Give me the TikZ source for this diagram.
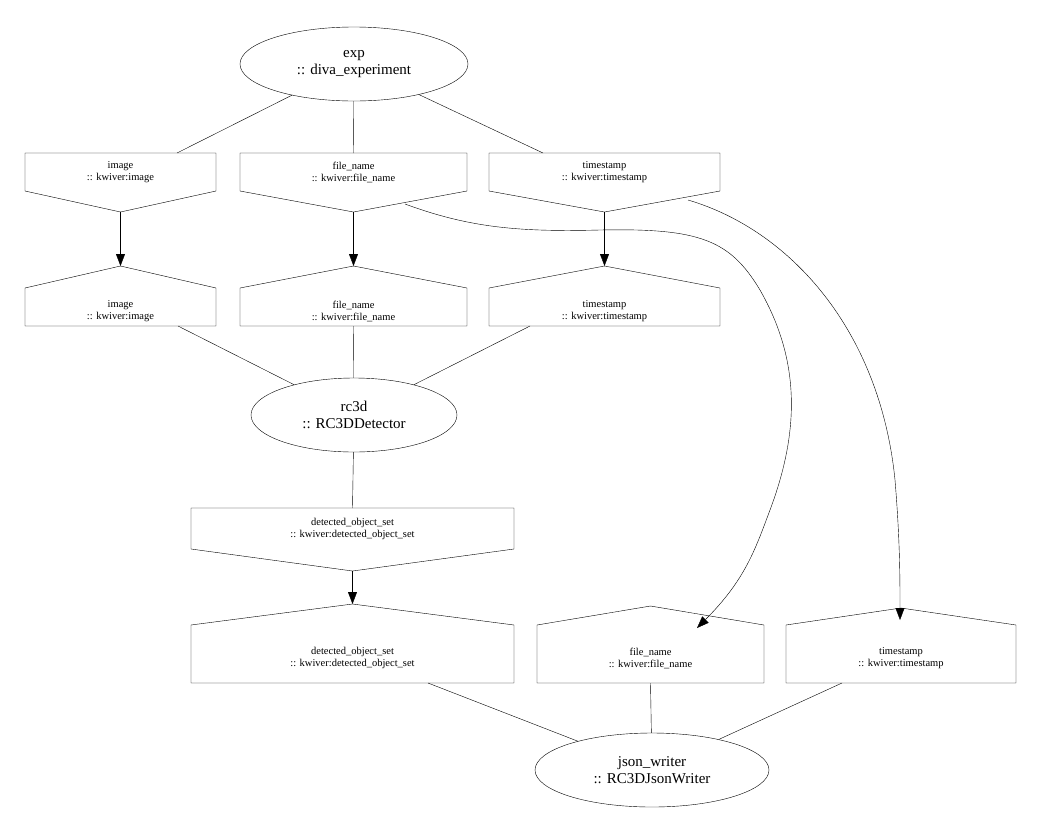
\documentclass[tikz,border=0pt]{standalone}
\usepackage{fontspec}
\setmainfont{Liberation Serif}
\usetikzlibrary{arrows.meta,shapes.geometric}
\tikzset{
  proc/.style={draw,ellipse,inner sep=0pt,minimum width=#1,minimum height=74pt,font=\fontsize{15}{17}\selectfont,align=center},
  port/.style={font=\fontsize{10.5}{12}\selectfont,align=center},
  link/.style={-{Triangle[length=12pt,width=9pt]}},
}
% output port: box with point below
\newcommand{\outport}[8]{%
  \draw (#2,#4) -- (#3,#4) -- (#3,#5) -- ({(#2+#3)/2},#6) -- (#2,#5) -- cycle;
  \coordinate (#1-top) at ({(#2+#3)/2},#4);
  \coordinate (#1-tip) at ({(#2+#3)/2},#6);
  \node[port] (#1) at ({(#2+#3)/2},{(#4+#5)/2}) {#7\\:: #8};}
% input port: box with point above
\newcommand{\inport}[8]{%
  \draw (#2,#5) -- (#3,#5) -- (#3,#4) -- ({(#2+#3)/2},#6) -- (#2,#4) -- cycle;
  \coordinate (#1-bot) at ({(#2+#3)/2},#5);
  \coordinate (#1-tip) at ({(#2+#3)/2},#6);
  \node[port] (#1) at ({(#2+#3)/2},{(#4+#5)/2+4}) {#7\\:: #8};}
\begin{document}
\begin{tikzpicture}[x=1pt,y=-1pt]
  \useasboundingbox (0,0) rectangle (1043,836);

  \node[proc=228pt] (exp) at (354,64) {exp\\:: diva\_experiment};
  \node[proc=206pt] (rc3d) at (354,415) {rc3d\\:: RC3DDetector};
  \node[proc=234pt] (json) at (652,770) {json\_writer\\:: RC3DJsonWriter};

  \outport{expimg}{25}{216}{153}{191}{212}{image}{kwiver:image}
  \outport{expfile}{240}{467}{153}{191}{212}{file\_name}{kwiver:file\_name}
  \outport{expts}{489}{720}{153}{191}{212}{timestamp}{kwiver:timestamp}

  \inport{rcimg}{25}{216}{288}{326}{266}{image}{kwiver:image}
  \inport{rcfile}{240}{467}{288}{326}{266}{file\_name}{kwiver:file\_name}
  \inport{rcts}{489}{720}{288}{326}{266}{timestamp}{kwiver:timestamp}

  \outport{rcdet}{191}{514}{508}{549}{571}{detected\_object\_set}{kwiver:detected\_object\_set}

  \inport{jwdet}{191}{514}{625}{683}{604}{detected\_object\_set}{kwiver:detected\_object\_set}
  \inport{jwfile}{537}{764}{625}{683}{606}{file\_name}{kwiver:file\_name}
  \inport{jwts}{786}{1016}{625}{683}{608}{timestamp}{kwiver:timestamp}

  \draw (exp) -- (177,153);
  \draw (exp) -- (expfile-top);
  \draw (exp) -- (543,153);

  \draw[link] (expimg-tip) -- (rcimg-tip);
  \draw[link] (expfile-tip) -- (rcfile-tip);
  \draw[link] (expts-tip) -- (rcts-tip);

  \draw (178,326) -- (rc3d);
  \draw (rcfile-bot) -- (rc3d);
  \draw (530,326) -- (rc3d);

  \draw (rc3d) -- (rcdet-top);
  \draw[link] (rcdet-tip) -- (jwdet-tip);

  \draw[link] (405,204) .. controls (470,228) and (520,232) .. (600,230)
    .. controls (700,228) and (730,240) .. (760,290)
    .. controls (800,360) and (800,430) .. (770,510)
    .. controls (755,550) and (745,580) .. (697,628);
  \draw[link] (688,200) .. controls (790,230) and (880,330) .. (895,480)
    .. controls (900,540) and (900,580) .. (900,620);

  \draw (428,683) -- (json);
  \draw (jwfile-bot) -- (json);
  \draw (842,683) -- (json);
\end{tikzpicture}
\end{document}
